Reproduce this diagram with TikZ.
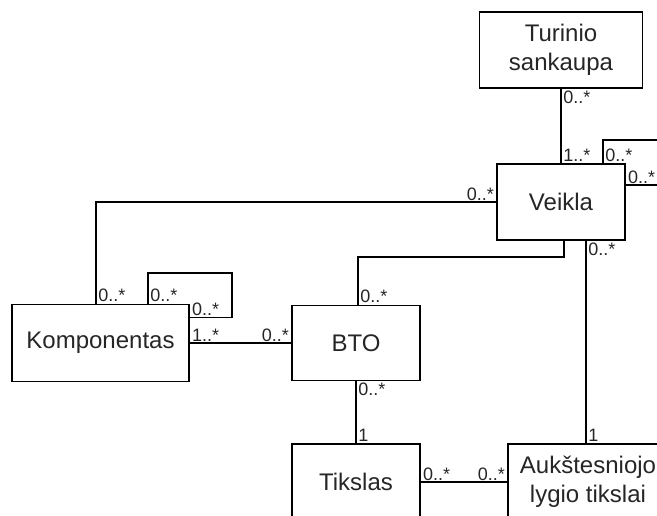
\documentclass[tikz,border=0pt]{standalone}
\usepackage{fontspec}
\setmainfont{Liberation Sans}
\usetikzlibrary{positioning}
\tikzstyle{entity} = [rectangle, draw=black, line width=1.6pt, fill=white, text centered, align=center, font=\fontsize{24}{29}\selectfont, text=black!85, inner sep=0pt]
\tikzstyle{line} = [line width=1.6pt]
\tikzstyle{mult} = [font=\fontsize{18}{20}\selectfont, inner xsep=1.5pt, inner ysep=1pt, text=black!85]

\begin{document}
\begin{tikzpicture}[x=1pt, y=-1pt]
\useasboundingbox (0,0) rectangle (657,515);
\clip (0,0) rectangle (657,515);

\node (turinio) [entity, minimum width=163pt, minimum height=76pt] at (561,50) {Turinio\\sankaupa};
\node (veikla) [entity, minimum width=128pt, minimum height=76pt] at (561,202) {Veikla};
\node (komp) [entity, minimum width=177pt, minimum height=77pt] at (100.5,343) {Komponentas};
\node (bto) [entity, minimum width=128pt, minimum height=75pt] at (356,343) {BTO};
\node (tikslas) [entity, minimum width=128pt, minimum height=76pt] at (356,482) {Tikslas};
\node (auk) [entity, minimum width=160pt, minimum height=76pt] at (588,482) {Aukštesniojo\\lygio tikslai};

\coordinate (vloop) at (675,140);
\coordinate (kloop) at (232,273);

\draw [line] (turinio.south) node[mult, anchor=north west] {0..*} -- (veikla.north) node[mult, anchor=south west] {1..*};
\draw [line] ([xshift=42pt]veikla.north) node[mult, anchor=south west] {0..*} |- (vloop) |- ([yshift=17pt]veikla.east) node[mult, anchor=south west] {0..*};
\draw [line] (veikla.west) node[mult, anchor=south east] {0..*} -| ([xshift=-4.5pt]komp.north) node[mult, anchor=south west] {0..*};
\draw [line] ([xshift=3pt]veikla.south) -- ++(0,16) -| ([xshift=2pt]bto.north) node[mult, anchor=south west] {0..*};
\draw [line] ([xshift=25pt]veikla.south) node[mult, anchor=north west] {0..*} -- ([xshift=25pt]veikla.south |- auk.north) node[mult, anchor=south west] {1};
\draw [line] ([xshift=47.5pt]komp.north) node[mult, anchor=south west] {0..*} |- (kloop) |- ([yshift=25.5pt]komp.east) node[mult, anchor=south west] {0..*};
\draw [line] (komp.east) node[mult, anchor=south west] {1..*} -- (bto.west) node[mult, anchor=south east] {0..*};
\draw [line] (bto.south) node[mult, anchor=north west] {0..*} -- (tikslas.north) node[mult, anchor=south west] {1};
\draw [line] (tikslas.east) node[mult, anchor=south west] {0..*} -- (auk.west) node[mult, anchor=south east] {0..*};

\end{tikzpicture}
\end{document}
